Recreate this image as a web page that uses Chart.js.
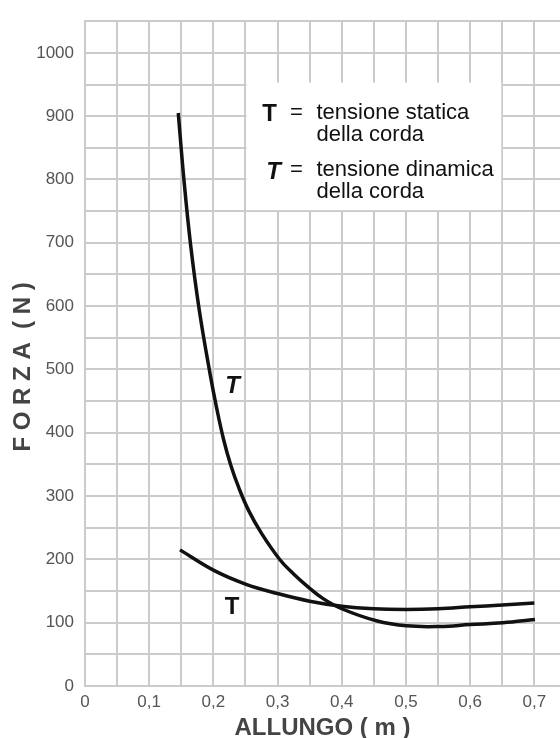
<!DOCTYPE html>
<html>
<head>
<meta charset="utf-8">
<script src="https://cdn.jsdelivr.net/npm/chart.js@4.4.1/dist/chart.umd.min.js"></script>
<style>
  html, body { margin: 0; padding: 0; background: #fff; overflow: hidden; }
  #wrap { width: 560px; height: 738px; }
</style>
</head>
<body>
<div id="wrap"><canvas id="forzaChart"></canvas></div>
<script>
// Values
const staticX  = [0.148, 0.2, 0.25, 0.3, 0.35, 0.4, 0.45, 0.5, 0.55, 0.6, 0.65, 0.7];
const staticY  = [215, 183, 161, 146, 134, 126, 122, 121, 122, 125, 128, 131];

const dynamicX = [0.1453, 0.1539, 0.1645, 0.178, 0.1952, 0.2051, 0.216, 0.227, 0.24, 0.255, 0.275, 0.304, 0.325, 0.347, 0.371, 0.4, 0.454, 0.501, 0.553, 0.6, 0.651, 0.701];
const dynamicY = [905, 802, 697, 594, 491, 439, 389, 349, 312, 277, 241, 199, 177, 157, 138, 122, 103, 95, 94, 97, 100, 105];

const xTickLabels = ['0', '0,1', '0,2', '0,3', '0,4', '0,5', '0,6', '0,7'];
const yTickLabels = ['0', '100', '200', '300', '400', '500', '600', '700', '800', '900', '1000'];

const gridColor = '#cbcbcb';
const curveColor = '#111';
const fontFamily = '"Liberation Sans", Arial, sans-serif';

function toPoints(xs, ys) {
    return xs.map((x, i) => ({ x: x, y: ys[i] }));
}

// legend box and curve labels drawn on top of the grid
const notesPlugin = {
    id: 'notes',
    beforeDatasetsDraw(chart) {
        const { ctx, scales: { x, y } } = chart;
        const left = x.getPixelForValue(0.25), right = x.getPixelForValue(0.65);
        const top = y.getPixelForValue(950), bottom = y.getPixelForValue(750);

        ctx.save();
        ctx.fillStyle = '#fff';
        ctx.fillRect(left + 1, top - 2, right - left - 2, bottom - top + 1);

        ctx.fillStyle = '#111';
        ctx.textBaseline = 'alphabetic';
        ctx.textAlign = 'center';
        ctx.font = 'bold 24px ' + fontFamily;
        ctx.fillText('T', left + 24, top + 36);
        ctx.font = 'italic bold 24px ' + fontFamily;
        ctx.fillText('T', left + 28, top + 94);

        ctx.font = '22px ' + fontFamily;
        ctx.fillText('=', left + 51, top + 34);
        ctx.fillText('=', left + 51, top + 91);
        ctx.textAlign = 'left';
        ctx.fillText('tensione statica', left + 71, top + 34);
        ctx.fillText('della corda', left + 71, top + 56);
        ctx.fillText('tensione dinamica', left + 71, top + 91);
        ctx.fillText('della corda', left + 71, top + 113);

        // curve labels
        ctx.textAlign = 'center';
        ctx.textBaseline = 'middle';
        ctx.font = 'italic bold 24px ' + fontFamily;
        ctx.fillText('T', x.getPixelForValue(0.23), y.getPixelForValue(473));
        ctx.font = 'bold 24px ' + fontFamily;
        ctx.fillText('T', x.getPixelForValue(0.229), y.getPixelForValue(124));
        ctx.restore();
    }
};

const ctx = document.getElementById('forzaChart').getContext('2d');
new Chart(ctx, {
    type: 'line',
    data: {
        datasets: [
            {
                label: 'T statica',
                data: toPoints(staticX, staticY),
                borderColor: curveColor,
                borderWidth: 3.5,
                pointRadius: 0,
                tension: 0.4,
                fill: false
            },
            {
                label: 'T dinamica',
                data: toPoints(dynamicX, dynamicY),
                borderColor: curveColor,
                borderWidth: 3.5,
                pointRadius: 0,
                tension: 0.4,
                fill: false
            }
        ]
    },
    options: {
        responsive: true,
        maintainAspectRatio: false,
        animation: false,
        layout: { padding: { top: 13, right: 0, bottom: 0, left: 0 } },
        plugins: {
            legend: { display: false },
            tooltip: { enabled: false }
        },
        scales: {
            x: {
                type: 'linear',
                min: 0,
                max: 0.74,
                afterFit: s => { s.height = 52; },
                grid: { color: gridColor, lineWidth: 2, drawTicks: false },
                border: { color: gridColor, width: 2 },
                ticks: {
                    stepSize: 0.05,
                    includeBounds: false,
                    autoSkip: false,
                    maxRotation: 0,
                    padding: 6,
                    color: '#555',
                    font: { family: fontFamily, size: 17 },
                    callback: v => {
                        const k = Math.round(v * 20);
                        return k % 2 === 0 ? (xTickLabels[k / 2] || '') : '';
                    }
                },
                title: {
                    display: true,
                    text: 'ALLUNGO ( m )',
                    color: '#444',
                    padding: 0,
                    font: { family: fontFamily, size: 24, weight: 'bold', lineHeight: 0.8 }
                }
            },
            y: {
                min: 0,
                max: 1050,
                afterFit: s => { s.width = 85; },
                grid: { color: gridColor, lineWidth: 2, drawTicks: false },
                border: { color: gridColor, width: 2 },
                ticks: {
                    stepSize: 50,
                    autoSkip: false,
                    padding: 11,
                    color: '#555',
                    font: { family: fontFamily, size: 17 },
                    callback: v => {
                        const k = Math.round(v / 50);
                        return k % 2 === 0 ? (yTickLabels[k / 2] || '') : '';
                    }
                },
                title: {
                    display: true,
                    text: 'F O R Z A  ( N )    ',
                    color: '#444',
                    padding: { top: 9, bottom: 0 },
                    font: { family: fontFamily, size: 24, weight: 'bold' }
                }
            }
        }
    },
    plugins: [notesPlugin]
});
</script>
</body>
</html>
